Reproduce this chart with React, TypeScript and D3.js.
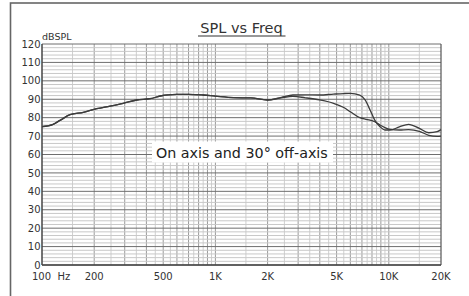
import React from "react";
import * as d3 from "d3";

// frequency points (Hz) shared by both responses
const freqs = [100, 115, 127, 145, 173, 207, 247, 294, 352, 420, 490, 600, 700, 850, 1000, 1270, 1600, 2000, 2400, 2800, 3300, 4000, 4800, 5500, 6000, 6800, 7300, 7800, 8300, 8900, 9500, 10200, 11500, 13000, 15000, 17000, 19000, 20000];

const onAxis = [75.1, 76.2, 78.5, 81.6, 82.9, 84.9, 86.3, 87.8, 89.6, 90.3, 91.9, 92.6, 92.7, 92.3, 91.7, 90.9, 90.7, 89.6, 91.0, 92.3, 92.4, 92.3, 92.8, 93.1, 93.2, 92.3, 89.6, 84.2, 78.7, 75.1, 73.3, 73.3, 75.0, 76.4, 74.2, 71.8, 72.4, 73.5];

const offAxis = [75.1, 76.2, 78.5, 81.6, 82.9, 84.9, 86.3, 87.8, 89.6, 90.3, 91.9, 92.6, 92.7, 92.3, 91.7, 90.9, 90.7, 89.6, 90.8, 91.6, 90.8, 89.6, 87.8, 85.5, 83.2, 80.0, 79.2, 78.7, 77.8, 76.0, 74.6, 73.6, 73.3, 73.5, 72.6, 70.4, 69.8, 70.0];

const yTicks = [0, 10, 20, 30, 40, 50, 60, 70, 80, 90, 100, 110, 120];
const xTicks = [100, 200, 500, 1000, 2000, 5000, 10000, 20000];
const xTickLabels = ["100  Hz", "200", "500", "1K", "2K", "5K", "10K", "20K"];

const title = "SPL vs Freq";
const unitLabel = "dBSPL";
const note = "On axis and 30° off-axis";

const W = 469;
const H = 296;
const margin = { top: 44, right: 28, bottom: 31, left: 42 };
const font = "'DejaVu Sans', sans-serif";

// vertical grid: every 50 Hz up to 1K, every 500 Hz up to 10K, then 15K
function vGrid() {
  const out: { f: number; major: boolean }[] = [];
  [100, 1000, 10000].forEach(dec => {
    for (let k = 3; k <= 20; k++) {
      const f = (dec / 2) * k;
      if (f >= 20000) continue;
      out.push({ f, major: k % 2 === 0 });
    }
  });
  return out;
}

export default function App() {
  const x = d3.scaleLog().domain([100, 20000]).range([margin.left, W - margin.right]);
  const y = d3.scaleLinear().domain([0, 120]).range([H - margin.bottom, margin.top]);

  const line = d3.line<number>()
    .x((_, i) => x(freqs[i]))
    .y(d => y(d))
    .curve(d3.curveMonotoneX);

  const hLines = d3.range(0, 121, 2);
  const vLines = vGrid();
  const cx = (margin.left + W - margin.right) / 2;

  return (
    <svg width={W} height={H} style={{ position: "absolute", left: 0, top: 0, background: "#fff" }} fontFamily={font}>
      <rect x={10.5} y={3} width={W} height={H} fill="#fff" stroke="#666" strokeWidth={1.6} />

      {vLines.map(v => (
        <line key={"v" + v.f} x1={x(v.f)} x2={x(v.f)} y1={y(0)} y2={y(120)}
          stroke={v.major ? "#9a9a9a" : "#cfcfcf"} strokeWidth={1} />
      ))}
      {hLines.map(h => (
        <line key={"h" + h} x1={x(100)} x2={x(20000)} y1={y(h)} y2={y(h)}
          stroke={h % 10 === 0 ? "#6e6e6e" : "#c8c8c8"} strokeWidth={1} />
      ))}
      <line x1={x(20000)} x2={x(20000)} y1={y(0)} y2={y(120)} stroke="#555" strokeWidth={1.2} />
      <line x1={x(100)} x2={x(100)} y1={y(0)} y2={y(120)} stroke="#444" strokeWidth={1.5} />
      <line x1={x(100)} x2={x(20000)} y1={y(0)} y2={y(0)} stroke="#444" strokeWidth={1.5} />

      <path d={line(offAxis) || ""} fill="none" stroke="#3c3c3c" strokeWidth={1.3} />
      <path d={line(onAxis) || ""} fill="none" stroke="#3c3c3c" strokeWidth={1.3} />

      {yTicks.map(t => (
        <text key={"yt" + t} x={x(100) - 1.5} y={y(t)} dy="0.36em" textAnchor="end" fontSize={10} fill="#333">{t}</text>
      ))}
      {xTicks.map((t, i) => (
        <text key={"xt" + t} x={i === 0 ? x(t) - 10 : x(t)} y={y(0) + 15} textAnchor={i === 0 ? "start" : "middle"}
          fontSize={10} fill="#333" style={{ whiteSpace: "pre" }}>{xTickLabels[i]}</text>
      ))}

      <text x={x(100)} y={40} fontSize={9.5} fill="#333">{unitLabel}</text>
      <text x={cx} y={33} textAnchor="middle" fontSize={14.5} fill="#333">{title}</text>
      <line x1={cx - 43.5} x2={cx + 44} y1={36} y2={36} stroke="#333" strokeWidth={1.1} />

      <rect x={152} y={141.5} width={181} height={21} fill="#fff" />
      <text x={156} y={157.5} fontSize={14.3} fill="#222">{note}</text>
    </svg>
  );
}
